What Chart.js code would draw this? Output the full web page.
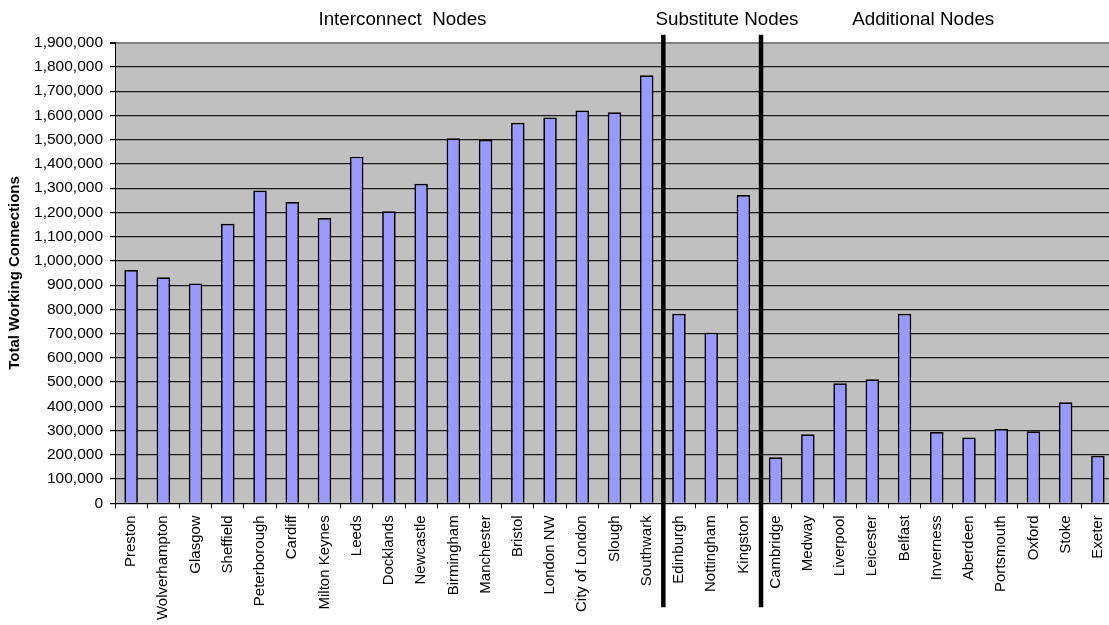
<!DOCTYPE html>
<html>
<head>
<meta charset="utf-8">
<title>Total Working Connections by Node</title>
<script src="https://cdn.jsdelivr.net/npm/chart.js@4.4.1/dist/chart.umd.min.js"></script>
<style>
  html, body { margin: 0; padding: 0; background: #ffffff; overflow: hidden; }
  #wrap { position: relative; width: 1114px; height: 625px; }
</style>
</head>
<body>
<div id="wrap"><canvas id="chart" width="1114" height="625"></canvas></div>
<script>
// Node names, in display order
const nodeNames = [
  'Preston', 'Wolverhampton', 'Glasgow', 'Sheffield', 'Peterborough', 'Cardiff',
  'Milton Keynes', 'Leeds', 'Docklands', 'Newcastle', 'Birmingham', 'Manchester',
  'Bristol', 'London NW', 'City of London', 'Slough', 'Southwark',
  'Edinburgh', 'Nottingham', 'Kingston',
  'Cambridge', 'Medway', 'Liverpool', 'Leicester', 'Belfast', 'Inverness',
  'Aberdeen', 'Portsmouth', 'Oxford', 'Stoke', 'Exeter'
];

// Total working connections per node
const workingConnections = [
  962000, 932000, 907000, 1153000, 1290000, 1243000,
  1177000, 1430000, 1205000, 1318000, 1506000, 1499000,
  1570000, 1591000, 1620000, 1613000, 1766000,
  782000, 704000, 1272000,
  190000, 285000, 495000, 512000, 782000, 294000,
  271000, 307000, 297000, 417000, 196000
];

// Node groups: title and index of first node in each group
const groupTitles = ['Interconnect  Nodes', 'Substitute Nodes', 'Additional Nodes'];
const groupFirstIndex = [0, 17, 20];

// Value axis range
const axisMax = 1900000;
const axisStep = 100000;

const FONT = '"Liberation Sans", Arial, Helvetica, sans-serif';
Chart.defaults.font.family = FONT;
Chart.defaults.color = '#000000';

// Grey plot background
const plotBackground = {
  id: 'plotBackground',
  beforeDraw(chart) {
    const { ctx, chartArea: a } = chart;
    ctx.save();
    ctx.fillStyle = '#c0c0c0';
    ctx.fillRect(a.left, a.top, a.right - a.left, a.bottom - a.top);
    ctx.restore();
  }
};

// Heavy dividers between groups and group titles above the plot
const groupMarkers = {
  id: 'groupMarkers',
  afterDatasetsDraw(chart, args, opts) {
    const { ctx, chartArea: a } = chart;
    const x = chart.scales.x;
    ctx.save();
    ctx.strokeStyle = '#000000';
    ctx.lineWidth = opts.dividerWidth;
    for (let g = 1; g < groupFirstIndex.length; g++) {
      const px = x.getPixelForValue(groupFirstIndex[g] - 0.5) + opts.dividerShift[g - 1];
      ctx.beginPath();
      ctx.moveTo(px, a.top - opts.dividerAbove);
      ctx.lineTo(px, a.bottom + opts.dividerBelow);
      ctx.stroke();
    }
    ctx.fillStyle = '#000000';
    ctx.font = opts.titleFont;
    ctx.textAlign = 'center';
    ctx.textBaseline = 'middle';
    groupTitles.forEach((t, i) => {
      ctx.fillText(t, x.getPixelForValue(opts.titleAnchor[i]), opts.titleY);
    });
    ctx.restore();
  }
};

new Chart(document.getElementById('chart'), {
  type: 'bar',
  data: {
    labels: nodeNames,
    datasets: [{
      data: workingConnections,
      backgroundColor: '#9999ff',
      borderColor: '#000000',
      borderWidth: 1.7,
      barPercentage: 0.42,
      categoryPercentage: 1
    }]
  },
  options: {
    responsive: false,
    animation: false,
    layout: { padding: { top: 42.7, left: 0, right: 0, bottom: 0 } },
    plugins: {
      legend: { display: false },
      tooltip: { enabled: false },
      groupMarkers: {
        dividerWidth: 4.5,
        dividerShift: [0.5, 1.5],
        dividerAbove: 8,
        dividerBelow: 104,
        titleFont: '18.8px ' + FONT,
        titleY: 19.5,
        titleAnchor: [8.42, 18.49, 24.58]
      }
    },
    scales: {
      x: {
        offset: true,
        grid: {
          offset: true,
          drawOnChartArea: false,
          drawTicks: true,
          tickLength: 5,
          color: '#000000'
        },
        border: { display: true, color: '#000000', width: 1 },
        ticks: {
          autoSkip: false,
          minRotation: 90,
          maxRotation: 90,
          padding: 7,
          color: '#000000',
          font: { size: 15, family: FONT }
        },
        afterFit(scale) {
          scale.height = 121.7;
          scale.paddingLeft = 0;
          scale.paddingRight = 0;
        }
      },
      y: {
        min: 0,
        max: axisMax,
        ticks: {
          stepSize: axisStep,
          padding: 7,
          color: '#000000',
          font: { size: 15.5, family: FONT },
          callback: (v) => Number(v).toLocaleString('en-US')
        },
        grid: {
          drawTicks: true,
          tickLength: 5,
          color: (c) => (c.tick && c.tick.value === axisMax ? '#808080' : '#1a1a1a'),
          lineWidth: (c) => (c.tick && c.tick.value === axisMax ? 2 : 1.2),
          tickColor: '#000000'
        },
        border: { display: true, color: '#000000', width: 1 },
        title: {
          display: true,
          text: 'Total Working Connections',
          color: '#000000',
          font: { size: 15, weight: 'bold', family: FONT },
          padding: { top: 6, bottom: 0 }
        },
        afterFit(scale) {
          scale.width = 115;
          scale.paddingTop = 0;
          scale.paddingBottom = 0;
        }
      }
    }
  },
  plugins: [plotBackground, groupMarkers]
});
</script>
</body>
</html>
